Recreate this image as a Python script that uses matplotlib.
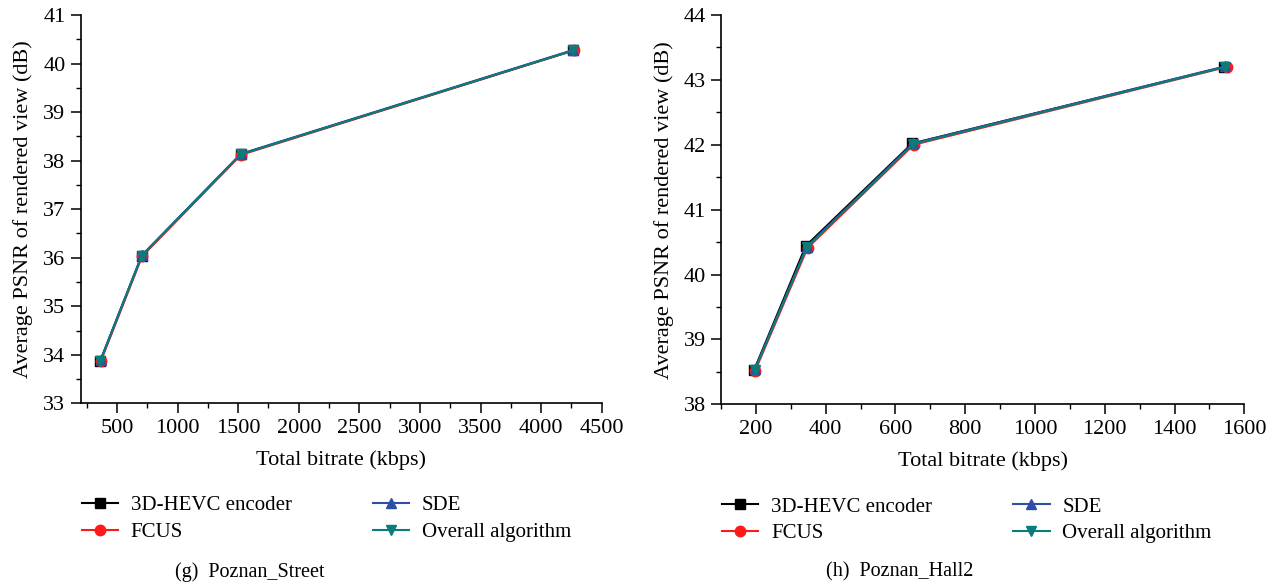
import matplotlib
matplotlib.use("Agg")
import matplotlib.pyplot as plt
from matplotlib.ticker import MultipleLocator, AutoMinorLocator

plt.rcParams['font.family'] = ['Liberation Serif', 'DejaVu Serif']

series_names = ["3D-HEVC encoder", "FCUS", "SDE", "Overall algorithm"]

# (g) Poznan_Street
street_x = {
    "3D-HEVC encoder": [363, 704, 1521, 4265],
    "FCUS": [366, 707, 1523, 4270],
    "SDE": [364, 705, 1522, 4266],
    "Overall algorithm": [363, 704, 1521, 4265],
}
street_y = {
    "3D-HEVC encoder": [33.88, 36.04, 38.13, 40.27],
    "FCUS": [33.87, 36.03, 38.12, 40.27],
    "SDE": [33.89, 36.05, 38.14, 40.28],
    "Overall algorithm": [33.88, 36.04, 38.13, 40.27],
}
# (h) Poznan_Hall2
hall_x = {
    "3D-HEVC encoder": [195, 343, 648, 1543],
    "FCUS": [198, 348, 652, 1550],
    "SDE": [197, 346, 651, 1546],
    "Overall algorithm": [197, 346, 651, 1546],
}
hall_y = {
    "3D-HEVC encoder": [38.53, 40.44, 42.02, 43.20],
    "FCUS": [38.52, 40.41, 42.00, 43.20],
    "SDE": [38.54, 40.43, 42.02, 43.21],
    "Overall algorithm": [38.53, 40.42, 42.01, 43.20],
}

styles = {
    "3D-HEVC encoder": dict(color="#000000", marker="s"),
    "FCUS": dict(color="#ff1a1a", marker="o"),
    "SDE": dict(color="#2e4fa6", marker="^"),
    "Overall algorithm": dict(color="#0b7b7b", marker="v"),
}

fig = plt.figure(figsize=(12.75, 5.84), dpi=100)
ax1 = fig.add_axes([0.0633, 0.3094, 0.4086, 0.6649])
ax2 = fig.add_axes([0.5655, 0.3077, 0.4104, 0.6666])

def draw(ax, xs, ys, xlim, ylim, xmaj, xmin_n, caption, capx):
    for name in series_names:
        st = styles[name]
        ax.plot(xs[name], ys[name], color=st["color"], marker=st["marker"],
                markersize=7.5, linewidth=1.5, label=name)
    ax.set_xlim(*xlim)
    ax.set_ylim(*ylim)
    ax.xaxis.set_major_locator(MultipleLocator(xmaj))
    ax.xaxis.set_minor_locator(AutoMinorLocator(xmin_n))
    ax.yaxis.set_major_locator(MultipleLocator(1))
    ax.yaxis.set_minor_locator(AutoMinorLocator(2))
    ax.spines['top'].set_visible(False)
    ax.spines['right'].set_visible(False)
    for s in ('left', 'bottom'):
        ax.spines[s].set_linewidth(1.2)
    ax.tick_params(which='major', direction='out', length=7, width=1.1, labelsize=16, pad=4)
    ax.tick_params(which='minor', direction='out', length=3.5, width=1.0)
    ax.set_xlabel("Total bitrate (kbps)", fontsize=16, labelpad=9)
    ax.set_ylabel("Average PSNR of rendered view (dB)", fontsize=16, labelpad=7)
    ax.legend(loc='upper left', bbox_to_anchor=(-0.014, -0.217), ncol=2, frameon=False,
              fontsize=15, handlelength=1.75, handletextpad=0.6, columnspacing=3.9,
              labelspacing=0.33, borderaxespad=0)
    fig.text(capx, 0.004, caption, ha='center', va='bottom', fontsize=14.5)

draw(ax1, street_x, street_y, (200, 4500), (33, 41), 500, 2, "(g)  Poznan_Street", 0.196)
draw(ax2, hall_x, hall_y, (100, 1600), (38, 44), 200, 2, "(h)  Poznan_Hall2", 0.706)

fig.savefig("out.png", dpi=100)
